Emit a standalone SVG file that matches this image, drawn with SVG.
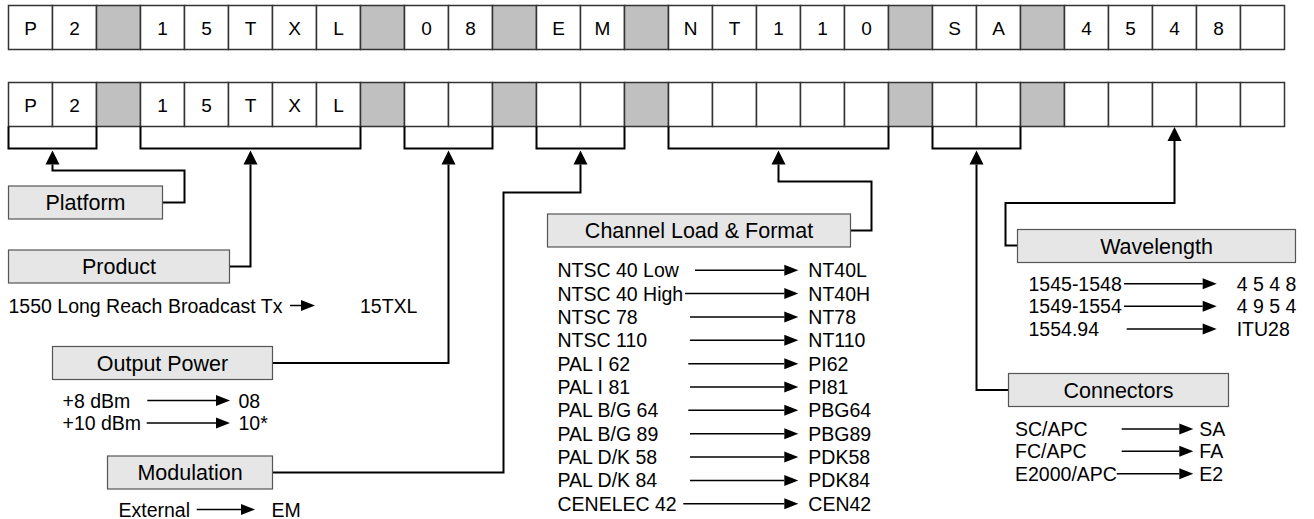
<svg xmlns="http://www.w3.org/2000/svg" width="1314" height="519" viewBox="0 0 1314 519">
<style>
.cell{fill:#fff;stroke:#333;stroke-width:1.5}
.gap{fill:#c0c0c0;stroke:#333;stroke-width:1.5}
.ct{font-family:"Liberation Sans",Arial,sans-serif;font-size:19px;fill:#000;text-anchor:middle}
.box{fill:#e6e6e6;stroke:#555;stroke-width:1.2}
.bt{font-family:"Liberation Sans",Arial,sans-serif;font-size:21.5px;fill:#000;text-anchor:middle}
.lt{font-family:"Liberation Sans",Arial,sans-serif;font-size:19.5px;fill:#000}
.br{fill:none;stroke:#000;stroke-width:2}
.cn{fill:none;stroke:#000;stroke-width:2;marker-end:url(#big)}
.la{fill:none;stroke:#000;stroke-width:1.5;marker-end:url(#small)}
</style>
<defs>
<marker id="big" markerUnits="userSpaceOnUse" markerWidth="14" markerHeight="14" refX="0" refY="7" orient="auto" overflow="visible">
<path d="M0,0 L14,7 L0,14 z" fill="#000"/>
</marker>
<marker id="small" markerUnits="userSpaceOnUse" markerWidth="14" markerHeight="12" refX="0" refY="6" orient="auto" overflow="visible">
<path d="M0,0.5 L14,6 L0,11.5 z" fill="#000"/>
</marker>
</defs>
<rect width="1314" height="519" fill="#fff"/>

<g id="row1">
<rect class="cell" x="8.5" y="5.5" width="44" height="44"/>
<rect class="cell" x="52.5" y="5.5" width="44" height="44"/>
<rect class="gap" x="96.5" y="5.5" width="44" height="44"/>
<rect class="cell" x="140.5" y="5.5" width="44" height="44"/>
<rect class="cell" x="184.5" y="5.5" width="44" height="44"/>
<rect class="cell" x="228.5" y="5.5" width="44" height="44"/>
<rect class="cell" x="272.5" y="5.5" width="44" height="44"/>
<rect class="cell" x="316.5" y="5.5" width="44" height="44"/>
<rect class="gap" x="360.5" y="5.5" width="44" height="44"/>
<rect class="cell" x="404.5" y="5.5" width="44" height="44"/>
<rect class="cell" x="448.5" y="5.5" width="44" height="44"/>
<rect class="gap" x="492.5" y="5.5" width="44" height="44"/>
<rect class="cell" x="536.5" y="5.5" width="44" height="44"/>
<rect class="cell" x="580.5" y="5.5" width="44" height="44"/>
<rect class="gap" x="624.5" y="5.5" width="44" height="44"/>
<rect class="cell" x="668.5" y="5.5" width="44" height="44"/>
<rect class="cell" x="712.5" y="5.5" width="44" height="44"/>
<rect class="cell" x="756.5" y="5.5" width="44" height="44"/>
<rect class="cell" x="800.5" y="5.5" width="44" height="44"/>
<rect class="cell" x="844.5" y="5.5" width="44" height="44"/>
<rect class="gap" x="888.5" y="5.5" width="44" height="44"/>
<rect class="cell" x="932.5" y="5.5" width="44" height="44"/>
<rect class="cell" x="976.5" y="5.5" width="44" height="44"/>
<rect class="gap" x="1020.5" y="5.5" width="44" height="44"/>
<rect class="cell" x="1064.5" y="5.5" width="44" height="44"/>
<rect class="cell" x="1108.5" y="5.5" width="44" height="44"/>
<rect class="cell" x="1152.5" y="5.5" width="44" height="44"/>
<rect class="cell" x="1196.5" y="5.5" width="44" height="44"/>
<rect class="cell" x="1240.5" y="5.5" width="44" height="44"/>
<text class="ct" x="30.5" y="34.5">P</text>
<text class="ct" x="74.5" y="34.5">2</text>
<text class="ct" x="162.5" y="34.5">1</text>
<text class="ct" x="206.5" y="34.5">5</text>
<text class="ct" x="250.5" y="34.5">T</text>
<text class="ct" x="294.5" y="34.5">X</text>
<text class="ct" x="338.5" y="34.5">L</text>
<text class="ct" x="426.5" y="34.5">0</text>
<text class="ct" x="470.5" y="34.5">8</text>
<text class="ct" x="558.5" y="34.5">E</text>
<text class="ct" x="602.5" y="34.5">M</text>
<text class="ct" x="690.5" y="34.5">N</text>
<text class="ct" x="734.5" y="34.5">T</text>
<text class="ct" x="778.5" y="34.5">1</text>
<text class="ct" x="822.5" y="34.5">1</text>
<text class="ct" x="866.5" y="34.5">0</text>
<text class="ct" x="954.5" y="34.5">S</text>
<text class="ct" x="998.5" y="34.5">A</text>
<text class="ct" x="1086.5" y="34.5">4</text>
<text class="ct" x="1130.5" y="34.5">5</text>
<text class="ct" x="1174.5" y="34.5">4</text>
<text class="ct" x="1218.5" y="34.5">8</text>
</g>

<g id="row2">
<rect class="cell" x="8.5" y="82.5" width="44" height="44"/>
<rect class="cell" x="52.5" y="82.5" width="44" height="44"/>
<rect class="gap" x="96.5" y="82.5" width="44" height="44"/>
<rect class="cell" x="140.5" y="82.5" width="44" height="44"/>
<rect class="cell" x="184.5" y="82.5" width="44" height="44"/>
<rect class="cell" x="228.5" y="82.5" width="44" height="44"/>
<rect class="cell" x="272.5" y="82.5" width="44" height="44"/>
<rect class="cell" x="316.5" y="82.5" width="44" height="44"/>
<rect class="gap" x="360.5" y="82.5" width="44" height="44"/>
<rect class="cell" x="404.5" y="82.5" width="44" height="44"/>
<rect class="cell" x="448.5" y="82.5" width="44" height="44"/>
<rect class="gap" x="492.5" y="82.5" width="44" height="44"/>
<rect class="cell" x="536.5" y="82.5" width="44" height="44"/>
<rect class="cell" x="580.5" y="82.5" width="44" height="44"/>
<rect class="gap" x="624.5" y="82.5" width="44" height="44"/>
<rect class="cell" x="668.5" y="82.5" width="44" height="44"/>
<rect class="cell" x="712.5" y="82.5" width="44" height="44"/>
<rect class="cell" x="756.5" y="82.5" width="44" height="44"/>
<rect class="cell" x="800.5" y="82.5" width="44" height="44"/>
<rect class="cell" x="844.5" y="82.5" width="44" height="44"/>
<rect class="gap" x="888.5" y="82.5" width="44" height="44"/>
<rect class="cell" x="932.5" y="82.5" width="44" height="44"/>
<rect class="cell" x="976.5" y="82.5" width="44" height="44"/>
<rect class="gap" x="1020.5" y="82.5" width="44" height="44"/>
<rect class="cell" x="1064.5" y="82.5" width="44" height="44"/>
<rect class="cell" x="1108.5" y="82.5" width="44" height="44"/>
<rect class="cell" x="1152.5" y="82.5" width="44" height="44"/>
<rect class="cell" x="1196.5" y="82.5" width="44" height="44"/>
<rect class="cell" x="1240.5" y="82.5" width="44" height="44"/>
<text class="ct" x="30.5" y="111.5">P</text>
<text class="ct" x="74.5" y="111.5">2</text>
<text class="ct" x="162.5" y="111.5">1</text>
<text class="ct" x="206.5" y="111.5">5</text>
<text class="ct" x="250.5" y="111.5">T</text>
<text class="ct" x="294.5" y="111.5">X</text>
<text class="ct" x="338.5" y="111.5">L</text>
</g>

<g id="connectors">
<path class="br" d="M8.5,126.5 V148.5 H96.5 V126.5"/>
<path class="br" d="M140.5,126.5 V148.5 H360.5 V126.5"/>
<path class="br" d="M404.5,126.5 V148.5 H492.5 V126.5"/>
<path class="br" d="M536.5,126.5 V148.5 H624.5 V126.5"/>
<path class="br" d="M668.5,126.5 V148.5 H888.5 V126.5"/>
<path class="br" d="M932.5,126.5 V148.5 H1020.5 V126.5"/>
<path class="cn" d="M162.5,202.5 H184.5 V170.5 H52.5 V164.5"/>
<path class="cn" d="M229.5,266.5 H250.5 V164.5"/>
<path class="cn" d="M272.5,363 H448.5 V164.5"/>
<path class="cn" d="M272.5,472.5 H503.5 V192.5 H580.5 V164.5"/>
<path class="cn" d="M850.5,230.5 H871.5 V181.5 H778.5 V164.5"/>
<path class="cn" d="M1008.5,390 H976.5 V164.5"/>
<path class="cn" d="M1017.5,245.5 H1005.5 V203 H1174.5 V141"/>
</g>

<g id="platform">
<rect class="box" x="8.5" y="186" width="154" height="33"/>
<text class="bt" x="85.5" y="210.2">Platform</text>
</g>

<g id="product">
<rect class="box" x="8.5" y="250" width="221" height="33"/>
<text class="bt" x="119" y="274.2">Product</text>
<text class="lt" x="8.5" y="312.5">1550 Long Reach Broadcast Tx</text>
<path class="la" d="M290,305.5 H301"/>
<text class="lt" x="360" y="312.5">15TXL</text>
</g>

<g id="output-power">
<rect class="box" x="52.5" y="346.5" width="220" height="33"/>
<text class="bt" x="162.5" y="370.7">Output Power</text>
<text class="lt" x="62.5" y="407.5">+8 dBm</text>
<path class="la" d="M147.3,400.5 H216"/>
<text class="lt" x="238.5" y="407.5">08</text>
<text class="lt" x="62.5" y="430">+10 dBm</text>
<path class="la" d="M146.7,423 H216"/>
<text class="lt" x="238.5" y="430">10*</text>
</g>

<g id="modulation">
<rect class="box" x="107.5" y="456" width="165" height="33"/>
<text class="bt" x="190" y="480.2">Modulation</text>
<text class="lt" x="118.5" y="516.5">External</text>
<path class="la" d="M196.7,509.5 H241"/>
<text class="lt" x="271.5" y="516.5">EM</text>
</g>

<g id="channel-load">
<rect class="box" x="547.5" y="214" width="303" height="33"/>
<text class="bt" x="699" y="238.2">Channel Load &amp; Format</text>
<text class="lt" x="557.5" y="277.3">NTSC 40 Low</text>
<text class="lt" x="557.5" y="300.6">NTSC 40 High</text>
<text class="lt" x="557.5" y="324">NTSC 78</text>
<text class="lt" x="557.5" y="347.3">NTSC 110</text>
<text class="lt" x="557.5" y="370.7">PAL I 62</text>
<text class="lt" x="557.5" y="394">PAL I 81</text>
<text class="lt" x="557.5" y="417.3">PAL B/G 64</text>
<text class="lt" x="557.5" y="440.7">PAL B/G 89</text>
<text class="lt" x="557.5" y="464">PAL D/K 58</text>
<text class="lt" x="557.5" y="487.4">PAL D/K 84</text>
<text class="lt" x="557.5" y="510.7">CENELEC 42</text>
<path class="la" d="M695,270.3 H784.3"/>
<path class="la" d="M685,293.6 H784.3"/>
<path class="la" d="M690,317 H784.3"/>
<path class="la" d="M690,340.3 H784.3"/>
<path class="la" d="M688.3,363.7 H784.3"/>
<path class="la" d="M690,387 H784.3"/>
<path class="la" d="M688.3,410.3 H784.3"/>
<path class="la" d="M690,433.7 H784.3"/>
<path class="la" d="M690,457 H784.3"/>
<path class="la" d="M690,480.4 H784.3"/>
<path class="la" d="M683.3,503.7 H784.3"/>
<text class="lt" x="808.3" y="277.3">NT40L</text>
<text class="lt" x="808.3" y="300.6">NT40H</text>
<text class="lt" x="808.3" y="324">NT78</text>
<text class="lt" x="808.3" y="347.3">NT110</text>
<text class="lt" x="808.3" y="370.7">PI62</text>
<text class="lt" x="808.3" y="394">PI81</text>
<text class="lt" x="808.3" y="417.3">PBG64</text>
<text class="lt" x="808.3" y="440.7">PBG89</text>
<text class="lt" x="808.3" y="464">PDK58</text>
<text class="lt" x="808.3" y="487.4">PDK84</text>
<text class="lt" x="808.3" y="510.7">CEN42</text>
</g>

<g id="wavelength">
<rect class="box" x="1017.5" y="229.5" width="278" height="33"/>
<text class="bt" x="1156.5" y="253.7">Wavelength</text>
<text class="lt" x="1028.5" y="290.7">1545-1548</text>
<text class="lt" x="1028.5" y="313.3">1549-1554</text>
<text class="lt" x="1028.5" y="336">1554.94</text>
<path class="la" d="M1124,283.7 H1202.7"/>
<path class="la" d="M1124,306.3 H1202.7"/>
<path class="la" d="M1126.7,329 H1202.7"/>
<text class="lt" x="1236.7" y="290.7">4 5 4 8</text>
<text class="lt" x="1236.7" y="313.3">4 9 5 4</text>
<text class="lt" x="1236.7" y="336">ITU28</text>
</g>

<g id="connectors-node">
<rect class="box" x="1008.5" y="373.5" width="220" height="33"/>
<text class="bt" x="1118.5" y="397.7">Connectors</text>
<text class="lt" x="1015" y="436">SC/APC</text>
<text class="lt" x="1015" y="458.3">FC/APC</text>
<text class="lt" x="1015" y="480.7">E2000/APC</text>
<path class="la" d="M1121.7,429 H1179.3"/>
<path class="la" d="M1121.7,451.3 H1179.3"/>
<path class="la" d="M1116.7,473.7 H1179.3"/>
<text class="lt" x="1199.3" y="436">SA</text>
<text class="lt" x="1199.3" y="458.3">FA</text>
<text class="lt" x="1199.3" y="480.7">E2</text>
</g>
</svg>
